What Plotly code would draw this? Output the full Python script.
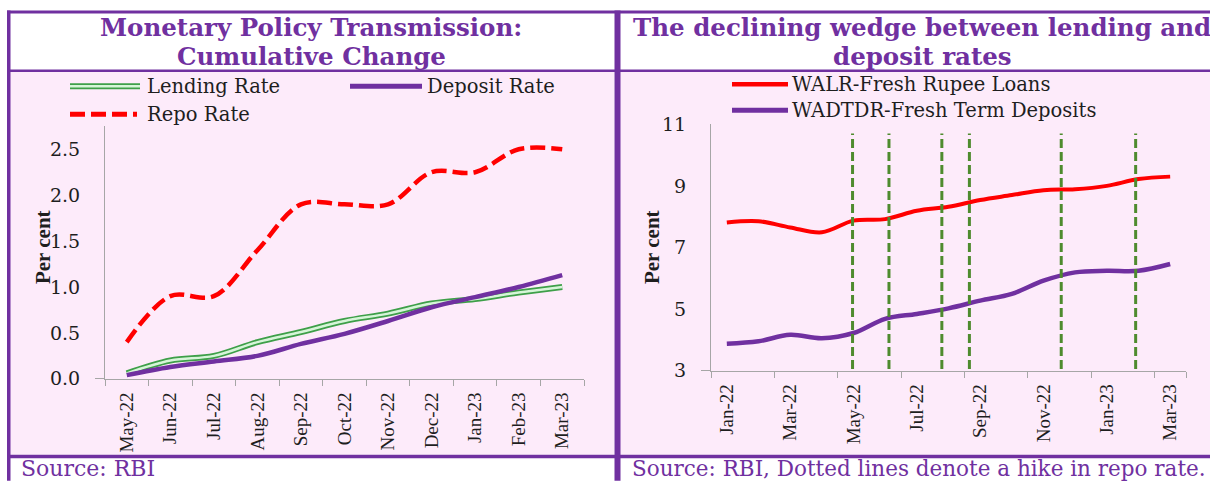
import plotly.graph_objects as go

W, H = 1210, 492

# ---------------- data ----------------
left_months = ["May-22", "Jun-22", "Jul-22", "Aug-22", "Sep-22", "Oct-22",
               "Nov-22", "Dec-22", "Jan-23", "Feb-23", "Mar-23"]
lending_rate = [0.06, 0.20, 0.25, 0.40, 0.51, 0.63, 0.71, 0.82, 0.87, 0.94, 1.00]
deposit_rate = [0.04, 0.13, 0.19, 0.25, 0.38, 0.49, 0.63, 0.78, 0.89, 1.00, 1.13]
repo_rate = [0.40, 0.90, 0.90, 1.40, 1.90, 1.90, 1.90, 2.25, 2.25, 2.50, 2.50]
left_yticks = [0.0, 0.5, 1.0, 1.5, 2.0, 2.5]

right_months = ["Jan-22", "Feb-22", "Mar-22", "Apr-22", "May-22", "Jun-22", "Jul-22",
                "Aug-22", "Sep-22", "Oct-22", "Nov-22", "Dec-22", "Jan-23", "Feb-23", "Mar-23"]
walr = [7.81, 7.85, 7.65, 7.49, 7.87, 7.92, 8.19, 8.32, 8.54, 8.70, 8.86, 8.89, 9.00, 9.22, 9.30]
wadtdr = [3.87, 3.95, 4.16, 4.05, 4.22, 4.68, 4.84, 5.02, 5.27, 5.49, 5.92, 6.19, 6.24, 6.24, 6.46]
hike_positions = [3.97, 5.12, 6.79, 7.66, 10.56, 12.91]  # in month-index units
hike_low, hike_high = 3.05, 10.7
right_yticks = [3, 5, 7, 9, 11]

# ---------------- helpers ----------------
# vertical positions are given in picture pixels; map them to the page
VA, VB = 11.5, 0.957


def px(x):
    return x / W


def py(y):
    return 1 - ((y - VA) / VB) / H


PURPLE = "#7030A0"
PINK = "#FDEBFA"
AXIS = "#A6A6A6"
SERIF_W = "DejaVu Serif"
SERIF = "Liberation Serif"
TXT = "#1E1E1E"

fig = go.Figure()

xl = list(range(len(left_months)))
fig.add_trace(go.Scatter(x=xl, y=lending_rate, mode="lines", xaxis="x", yaxis="y",
                         line=dict(color="#3E9F49", width=6, shape="spline"), hoverinfo="skip"))
fig.add_trace(go.Scatter(x=xl, y=lending_rate, mode="lines", xaxis="x", yaxis="y",
                         line=dict(color="#D6F5D8", width=2.5, shape="spline"), name="Lending Rate"))
fig.add_trace(go.Scatter(x=xl, y=deposit_rate, mode="lines", xaxis="x", yaxis="y",
                         line=dict(color=PURPLE, width=4.5, shape="spline"), name="Deposit Rate"))
fig.add_trace(go.Scatter(x=xl, y=repo_rate, mode="lines", xaxis="x", yaxis="y",
                         line=dict(color="#FF0000", width=4.5, shape="spline", dash="15px,6px"),
                         name="Repo Rate"))

xr = list(range(len(right_months)))
fig.add_trace(go.Scatter(x=xr, y=walr, mode="lines", xaxis="x2", yaxis="y2",
                         line=dict(color="#FF0000", width=4, shape="spline"),
                         name="WALR-Fresh Rupee Loans"))
fig.add_trace(go.Scatter(x=xr, y=wadtdr, mode="lines", xaxis="x2", yaxis="y2",
                         line=dict(color=PURPLE, width=4.5, shape="spline"),
                         name="WADTDR-Fresh Term Deposits"))
hx, hy = [], []
for h in hike_positions:
    hx += [h, h, None]
    hy += [hike_low, hike_high, None]
fig.add_trace(go.Scatter(x=hx, y=hy, mode="lines", xaxis="x2", yaxis="y2",
                         line=dict(color="#4E8B2E", width=3, dash="9px,4px"), name="Repo hike"))

# ---------------- frame shapes ----------------
shapes = []


def rect(x0, y0, x1, y1, color):
    shapes.append(dict(type="rect", xref="paper", yref="paper", x0=px(x0), x1=px(x1),
                       y0=py(y1), y1=py(y0), fillcolor=color, line=dict(width=0), layer="below"))


rect(10, 72, 614, 456, PINK)
rect(620, 72, 1210, 456, PINK)
rect(7, 11, 1210, 14, PURPLE)
rect(7, 70, 1210, 72.5, PURPLE)
rect(7, 456, 1210, 459.5, PURPLE)
rect(7, 11, 10.5, 482, PURPLE)
rect(614.5, 11, 620.5, 482, PURPLE)


def lshape(x0, x1, y, color, width, dash=None):
    d = dict(type="line", xref="paper", yref="paper", x0=px(x0), x1=px(x1), y0=py(y), y1=py(y),
             line=dict(color=color, width=width), layer="above")
    if dash:
        d["line"]["dash"] = dash
    shapes.append(d)


# legend symbols
lshape(70, 140, 87, "#3E9F49", 6)
lshape(70, 140, 87, "#D6F5D8", 2.5)
lshape(350, 422, 87, PURPLE, 5)
lshape(70, 137, 115, "#FF0000", 5, "15px,6px")
lshape(732, 788, 85, "#FF0000", 4.5)
lshape(732, 788, 111, PURPLE, 5)

# ---------------- annotations ----------------
ann = []


def text(t, x, y, size, color=TXT, family=SERIF_W, bold=False, anchor="left", angle=0):
    ann.append(dict(text=t, xref="paper", yref="paper", x=px(x), y=py(y), xanchor=anchor,
                    yanchor="middle", showarrow=False, textangle=angle, borderpad=0,
                    font=dict(family=family, size=size, color=color,
                              weight="bold" if bold else "normal")))


text("Monetary Policy Transmission:", 311, 28.5, 24.5, PURPLE, bold=True, anchor="center")
text("Cumulative Change", 311, 57, 24.5, PURPLE, bold=True, anchor="center")
text("The declining wedge between lending and", 922, 28.5, 24.5, PURPLE, bold=True, anchor="center")
text("deposit rates", 922, 57, 24.5, PURPLE, bold=True, anchor="center")

text("Lending Rate", 146, 87, 19.5)
text("Deposit Rate", 426, 87, 19.5)
text("Repo Rate", 146, 115, 19.5)
text("WALR-Fresh Rupee Loans", 791, 85, 19.5)
text("WADTDR-Fresh Term Deposits", 791, 111, 19.5)

text("Per cent", 43, 248, 21, family=SERIF, bold=True, anchor="center", angle=-90)
text("Per cent", 652, 248, 21, family=SERIF, bold=True, anchor="center", angle=-90)

text("Source: RBI", 20, 470, 22, PURPLE)
text("Source: RBI, Dotted lines denote a hike in repo rate.", 631, 470, 21.5, PURPLE)

# ---------------- axes ----------------
tickfont_x = dict(family=SERIF, size=19, color=TXT)
tickfont_y = dict(family=SERIF_W, size=19, color=TXT)

left_minor = [i - 0.5 for i in range(len(left_months) + 1)]
right_minor = [i - 0.5 for i in xr[::2]] + [len(right_months) - 0.5]

fig.update_layout(
    width=W, height=H,
    margin=dict(l=0, r=0, t=0, b=0),
    paper_bgcolor="white",
    plot_bgcolor="rgba(0,0,0,0)",
    showlegend=False,
    shapes=shapes,
    annotations=ann,
    xaxis=dict(domain=[px(105), px(584)], range=[-0.5, len(left_months) - 0.5],
               tickmode="array", tickvals=xl, ticktext=left_months, tickangle=-90,
               ticks="", showline=True, linecolor=AXIS, linewidth=1, showgrid=False,
               zeroline=False, tickfont=tickfont_x, ticklabelstandoff=5, anchor="y",
               minor=dict(tickmode="array", tickvals=left_minor, ticks="outside", ticklen=6,
                          tickcolor=AXIS, tickwidth=1, showgrid=False)),
    yaxis=dict(domain=[py(380), py(127)], range=[0, 2.75], tickmode="array",
               tickvals=left_yticks, tickformat=".1f", ticks="", showline=True,
               linecolor=AXIS, linewidth=1, showgrid=False, zeroline=False,
               tickfont=tickfont_y, ticklabelstandoff=20, anchor="x",
               minor=dict(tickmode="array", tickvals=left_yticks[:1], ticks="outside",
                          ticklen=9, tickcolor=AXIS, tickwidth=1, showgrid=False)),
    xaxis2=dict(domain=[px(711), px(1186)], range=[-0.5, len(right_months) - 0.5],
                tickmode="array", tickvals=xr[::2], ticktext=right_months[::2], tickangle=-90,
                ticks="", showline=True, linecolor=AXIS, linewidth=1, showgrid=False,
                zeroline=False, tickfont=tickfont_x, ticklabelstandoff=5, anchor="y2",
                minor=dict(tickmode="array", tickvals=right_minor, ticks="outside", ticklen=6,
                           tickcolor=AXIS, tickwidth=1, showgrid=False)),
    yaxis2=dict(domain=[py(371.7), py(125)], range=[3, 11], tickmode="array",
                tickvals=right_yticks, ticks="", showline=True, linecolor=AXIS, linewidth=1,
                showgrid=False, zeroline=False, tickfont=tickfont_y, ticklabelstandoff=20,
                anchor="x2",
                minor=dict(tickmode="array", tickvals=right_yticks[:1], ticks="outside",
                           ticklen=9, tickcolor=AXIS, tickwidth=1, showgrid=False)),
)

fig.write_html("out.html", config={"displayModeBar": False},
               post_script="document.body.style.margin='0';document.body.style.overflow='hidden';")
